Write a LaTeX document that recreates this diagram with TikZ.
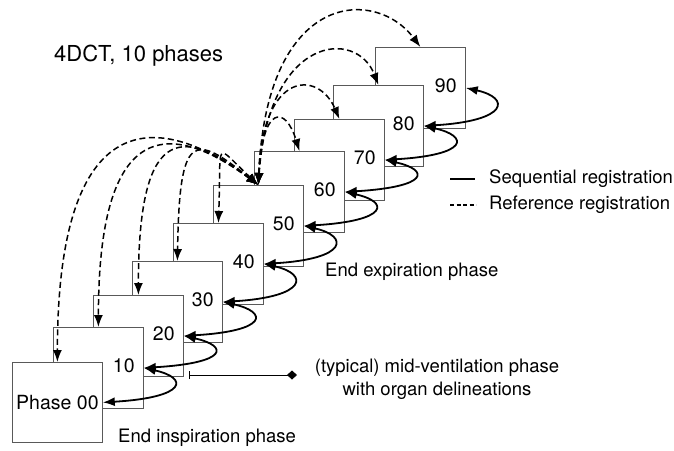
\documentclass[tikz,border=0pt]{standalone}
\usepackage{fontspec}
\setmainfont{TeX Gyre Heros}
\usetikzlibrary{arrows.meta}
\begin{document}
\begin{tikzpicture}[x=1pt,y=-1pt,
  phasebox/.style={draw=black!65, line width=0.8pt, fill=white,
    minimum width=90pt, minimum height=81pt, inner sep=0pt, anchor=north west},
  phasenum/.style={font=\fontsize{19.5}{23}\selectfont, inner sep=0pt},
  plain/.style={font=\fontsize{18.5}{23}\selectfont, inner sep=0pt},
  seqreg/.style={line width=1.8pt, {Latex[length=12pt,width=9pt]}-{Latex[length=12pt,width=9pt]}},
  refreg/.style={line width=1.5pt, dash pattern=on 6pt off 3.5pt,
    {Latex[length=12pt,width=9pt]}-{Latex[length=12pt,width=9pt]}},
  legsolid/.style={line width=1.1pt},
  legdash/.style={line width=1.1pt, dash pattern=on 4pt off 2.5pt},
  pointer/.style={line width=0.8pt, draw=black,
    {Bar[width=8pt,line width=0.8pt]}-{Diamond[length=10pt,width=9pt]}}
]
\useasboundingbox (0,0) rectangle (674,450);

% stack of phase images, back to front
\node[phasebox] (b90) at (375,47) {};
\node[phasenum] (n90) at ([shift={(-20,-2.5)}]b90.east) {90};
\node[phasebox] (b80) at (333,85) {};
\node[phasenum] (n80) at ([shift={(-20,-2.5)}]b80.east) {80};
\node[phasebox] (b70) at (294,119) {};
\node[phasenum] (n70) at ([shift={(-20,-2.5)}]b70.east) {70};
\node[phasebox] (b60) at (254,151) {};
\node[phasenum] (n60) at ([shift={(-20,-2.5)}]b60.east) {60};
\node[phasebox] (b50) at (213,185) {};
\node[phasenum] (n50) at ([shift={(-20,-2.5)}]b50.east) {50};
\node[phasebox] (b40) at (173,223) {};
\node[phasenum] (n40) at ([shift={(-20,-2.5)}]b40.east) {40};
\node[phasebox] (b30) at (132,261) {};
\node[phasenum] (n30) at ([shift={(-20,-2.5)}]b30.east) {30};
\node[phasebox] (b20) at (93,295) {};
\node[phasenum] (n20) at ([shift={(-20,-2.5)}]b20.east) {20};
\node[phasebox] (b10) at (53,327) {};
\node[phasenum] (n10) at ([shift={(-20,-2.5)}]b10.east) {10};
\node[phasebox, minimum height=80pt, phasenum] (b00) at (12,362) {Phase 00};

% sequential registration between neighbouring phases
\foreach \a/\b in {90/80,80/70,70/60,60/50,50/40,40/30,30/20,20/10,10/00}
  \draw[seqreg] (b\a.east) .. controls +(45,10) and +(85,-5) .. (b\b.east);

% reference registration from phase 50 to every other phase
\draw[refreg] (b50.north) .. controls +(8,-195) and +(-45,-60) .. (b90.north);
\draw[refreg] (b50.north) .. controls +(10,-150) and +(-22,-57) .. (b80.north);
\draw[refreg] (b50.north) .. controls +(4,-115) and +(-21,-49) .. (b70.north);
\draw[refreg] (b50.north) .. controls +(4,-80) and +(-14,-46) .. (b60.north);
\draw[refreg] (b50.north) .. controls +(-45,-42) and +(3,-85) .. (b40.north);
\draw[refreg] (b50.north) .. controls +(-65,-52) and +(2,-130) .. (b30.north);
\draw[refreg] (b50.north) .. controls +(-80,-62) and +(0,-165) .. (b20.north);
\draw[refreg] (b50.north) .. controls +(-95,-70) and +(0,-200) .. (b10.north);
\draw[refreg] (b50.north) .. controls +(-110,-82) and +(0,-245) .. (b00.north);

% title
\node[font=\fontsize{22}{26}\selectfont, inner sep=0pt, anchor=base west] (title) at (54,61) {4DCT, 10 phases};

% legend
\coordinate (ls1) at (450,179);
\coordinate (ls2) at (475,179);
\draw[legsolid] (ls1) -- (ls2);
\node[plain, anchor=west] (lt1) at (489,179) {Sequential registration};
\coordinate (ld1) at (450,205);
\coordinate (ld2) at (476,205);
\draw[legdash] (ld1) -- (ld2);
\node[plain, anchor=west] (lt2) at (489,205) {Reference registration};

% phase annotations
\node[plain, anchor=west] (endexp) at (325,272) {End expiration phase};
\node[plain, anchor=west] (endinsp) at (118,438) {End inspiration phase};
\node[plain, align=center] (midvent) at (437,379) {(typical) mid-ventilation phase\\with organ delineations};
\coordinate (tick) at (189,375);
\coordinate (dia) at (297,375);
\draw[pointer] (tick) -- (dia);
\end{tikzpicture}
\end{document}
